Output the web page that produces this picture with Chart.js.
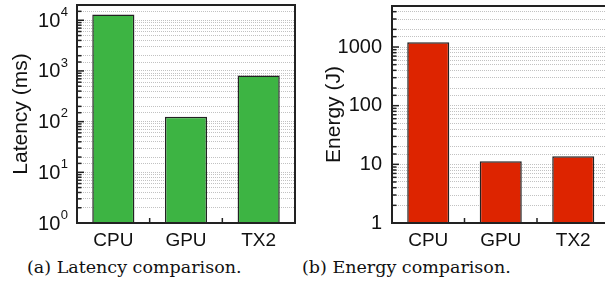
<!DOCTYPE html>
<html>
<head>
<meta charset="utf-8">
<script src="https://cdn.jsdelivr.net/npm/chart.js@4"></script>
<style>
    html, body { margin: 0; padding: 0; background: #fff; overflow: hidden; }
    body { width: 605px; height: 297px; position: relative; }
    canvas { position: absolute; top: 0; }
    #latencyChart { left: 0; }
    #energyChart { left: 300px; }
    .caption {
        position: absolute; top: 258px;
        font-family: 'DejaVu Serif', serif; font-size: 17.5px; line-height: 18px;
        color: #111; white-space: nowrap;
    }
</style>
</head>
<body>
<canvas id="latencyChart" width="300" height="250"></canvas>
<canvas id="energyChart" width="320" height="250"></canvas>
<div class="caption" style="left:27px">(a) Latency comparison.</div>
<div class="caption" style="left:302px">(b) Energy comparison.</div>
<script>
// Data
const categories = ['CPU', 'GPU', 'TX2'];
const latencyMs = [13000, 125, 810];
const energyJ = [1200, 11.3, 13.7];
const latencyRange = [1, 20000];
const energyRange = [1, 5000];

const isDecade = (v) => {
    const l = Math.log10(v);
    return Math.abs(l - Math.round(l)) < 1e-9;
};

// box, inner tick marks, and 10^n labels
const framePlugin = {
    id: 'frame',
    afterDraw(chart, args, opts) {
        const ctx = chart.ctx;
        const area = chart.chartArea;
        const y = chart.scales.y;
        const x = chart.scales.x;
        ctx.save();
        ctx.strokeStyle = '#222';
        ctx.lineWidth = 1.5;
        y.ticks.forEach(t => {
            const py = y.getPixelForValue(t.value);
            const len = isDecade(t.value) ? 7 : 4.5;
            ctx.beginPath();
            ctx.moveTo(area.left, py);
            ctx.lineTo(area.left + len, py);
            ctx.stroke();
        });
        for (let i = 0; i < categories.length - 1; i++) {
            const px = (x.getPixelForValue(i) + x.getPixelForValue(i + 1)) / 2;
            ctx.beginPath();
            ctx.moveTo(px, area.bottom);
            ctx.lineTo(px, area.bottom - 5);
            ctx.stroke();
        }
        ctx.lineWidth = 2;
        ctx.strokeRect(area.left, area.top, area.right - area.left, area.bottom - area.top);

        if (opts.powerLabels) {
            ctx.fillStyle = '#111';
            ctx.textBaseline = 'middle';
            y.ticks.forEach(t => {
                if (!isDecade(t.value)) return;
                const py = y.getPixelForValue(t.value);
                const exp = String(Math.round(Math.log10(t.value)));
                ctx.font = "13px 'Liberation Sans', Arial, sans-serif";
                const ew = ctx.measureText(exp).width;
                const ex = area.left - 9 - ew;
                ctx.textAlign = 'left';
                ctx.fillText(exp, ex, py - 8);
                ctx.font = "20px 'Liberation Sans', Arial, sans-serif";
                ctx.textAlign = 'right';
                ctx.fillText('10', ex - 0.5, py + 1);
            });
        }
        ctx.restore();
    }
};

function makeChart(id, values, range, color, title, opt) {
    const ctx = document.getElementById(id);
    return new Chart(ctx, {
        type: 'bar',
        data: {
            labels: categories,
            datasets: [{
                data: values,
                backgroundColor: color,
                borderColor: '#222',
                borderWidth: 1.5,
                barPercentage: 0.58,
                categoryPercentage: 1
            }]
        },
        plugins: [framePlugin],
        options: {
            responsive: false,
            animation: false,
            layout: {
                padding: { top: opt.top, right: opt.right, left: opt.left, bottom: 0 }
            },
            plugins: {
                legend: { display: false },
                tooltip: { enabled: false },
                frame: { powerLabels: opt.powerLabels }
            },
            scales: {
                x: {
                    grid: { display: false, drawTicks: false },
                    border: { display: false },
                    ticks: {
                        padding: 6,
                        color: '#111',
                        font: { family: "'Liberation Sans', Arial, sans-serif", size: 19 }
                    },
                    afterFit: (s) => { s.height = 27; s.paddingLeft = 0; s.paddingRight = 0; }
                },
                y: {
                    type: 'logarithmic',
                    min: range[0],
                    max: range[1],
                    border: { display: false, dash: [1, 1] },
                    grid: { color: '#c2c2c2', lineWidth: 1, drawTicks: false },
                    title: {
                        display: true,
                        text: title,
                        color: '#111',
                        padding: { top: 4, bottom: 0 },
                        font: { family: "'Liberation Sans', Arial, sans-serif", size: 21 }
                    },
                    ticks: {
                        display: !opt.powerLabels,
                        padding: 10,
                        color: '#111',
                        autoSkip: false,
                        font: { family: "'Liberation Sans', Arial, sans-serif", size: 20 },
                        callback: (v) => isDecade(v) ? String(Math.round(v)) : ''
                    },
                    afterFit: (s) => { s.width = opt.axisWidth; s.paddingTop = 0; s.paddingBottom = 0; }
                }
            }
        }
    });
}

document.addEventListener('DOMContentLoaded', () => {
    makeChart('latencyChart', latencyMs, latencyRange, '#3db443', 'Latency (ms)',
        { top: 5, right: 5, left: 5, axisWidth: 72, powerLabels: true });
    makeChart('energyChart', energyJ, energyRange, '#dd2400', 'Energy (J)',
        { top: 6, right: 10.5, left: 18, axisWidth: 74, powerLabels: false });
});
</script>
</body>
</html>
